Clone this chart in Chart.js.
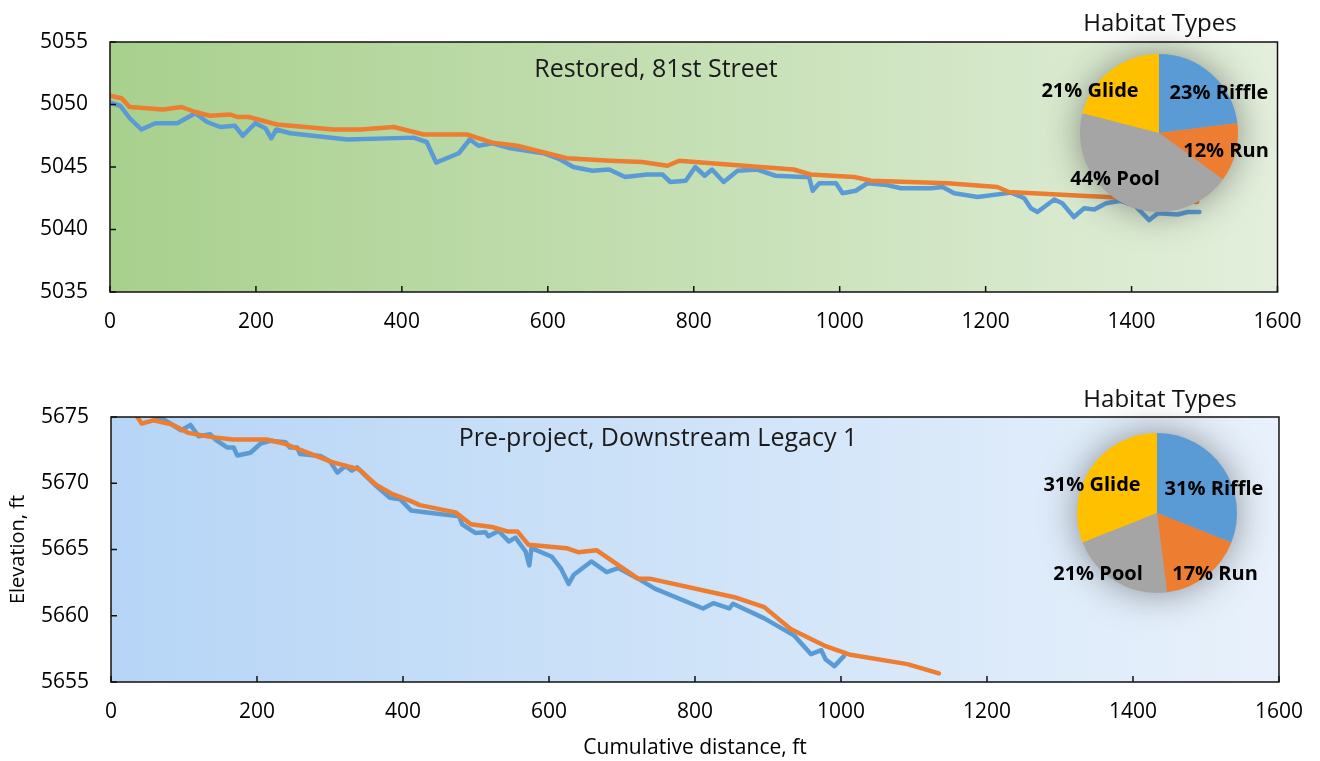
<!DOCTYPE html>
<html><head><meta charset="utf-8">
<script src="https://cdn.jsdelivr.net/npm/chart.js@4.4.1/dist/chart.umd.min.js"></script>
<style>
body{margin:0;width:1320px;height:761px;background:#fff;position:relative;overflow:hidden;font-family:"Open Sans",sans-serif;}
canvas{position:absolute;display:block;}
.t{position:absolute;transform:translate(-50%,-50%);white-space:nowrap;color:#000;line-height:1;}
.h{font-size:24px;color:#111;}
.pt{font-size:25px;color:#1a1a1a;}
.pl{font-size:20px;font-weight:700;color:#000;}
</style></head><body>
<canvas id="c1" width="1320" height="345" style="left:0;top:0"></canvas>
<canvas id="c2" width="1320" height="401" style="left:0;top:360px"></canvas>
<canvas id="p1" width="260" height="260" style="left:1029px;top:3px"></canvas>
<canvas id="p2" width="260" height="260" style="left:1027px;top:383px"></canvas>

<div class="t h" style="left:1160px;top:22px">Habitat Types</div>
<div class="t pt" style="left:656px;top:67px">Restored, 81st Street</div>
<div class="t pl" style="left:1090px;top:90px">21% Glide</div>
<div class="t pl" style="left:1219px;top:92px">23% Riffle</div>
<div class="t pl" style="left:1226px;top:150px">12% Run</div>
<div class="t pl" style="left:1115px;top:178px">44% Pool</div>

<div class="t h" style="left:1160px;top:398px">Habitat Types</div>
<div class="t pt" style="left:658px;top:436px">Pre-project, Downstream Legacy 1</div>
<div class="t pl" style="left:1092px;top:484px">31% Glide</div>
<div class="t pl" style="left:1214px;top:488px">31% Riffle</div>
<div class="t pl" style="left:1098px;top:573px">21% Pool</div>
<div class="t pl" style="left:1215px;top:573px">17% Run</div>

<script>
// ---------- DATA ----------
const xTicks = [0, 200, 400, 600, 800, 1000, 1200, 1400, 1600];

const topBlueDist = [0,14,27,43,62,92,117,133,151,171,182,199,213,221,228,247,325,416,434,447,478,493,505,524,549,594,617,635,661,684,706,736,757,768,789,802,815,825,841,860,887,912,951,958,963,972,995,1004,1022,1038,1065,1084,1125,1141,1157,1189,1235,1253,1262,1271,1294,1305,1321,1335,1349,1365,1385,1405,1424,1436,1463,1477,1493];
const topBlueElev = [5050.15,5049.9,5048.9,5048.0,5048.5,5048.5,5049.3,5048.6,5048.2,5048.3,5047.5,5048.5,5048.1,5047.3,5048.0,5047.7,5047.2,5047.35,5047.0,5045.35,5046.1,5047.2,5046.7,5046.9,5046.5,5046.1,5045.6,5045.0,5044.7,5044.8,5044.2,5044.4,5044.4,5043.8,5043.9,5045.0,5044.3,5044.8,5043.8,5044.7,5044.8,5044.3,5044.2,5044.2,5043.1,5043.7,5043.7,5042.9,5043.1,5043.7,5043.55,5043.3,5043.3,5043.4,5042.9,5042.6,5042.95,5042.5,5041.7,5041.4,5042.4,5042.1,5041.0,5041.7,5041.6,5042.1,5042.3,5041.9,5040.75,5041.3,5041.2,5041.4,5041.4];

const topOrangeDist = [0,16,27,73,98,117,137,165,174,190,229,306,343,389,430,489,524,558,626,686,729,764,780,846,937,960,1020,1043,1148,1216,1232,1331,1367,1420,1490];
const topOrangeElev = [5050.7,5050.5,5049.8,5049.6,5049.8,5049.4,5049.1,5049.2,5049.0,5049.0,5048.4,5048.0,5048.0,5048.2,5047.6,5047.6,5046.95,5046.7,5045.7,5045.5,5045.4,5045.1,5045.5,5045.2,5044.8,5044.4,5044.2,5043.9,5043.7,5043.4,5043.0,5042.7,5042.6,5042.4,5042.2];

const botBlueDist = [40,71,96,109,120,136,143,159,168,173,191,205,218,239,245,255,259,287,300,310,321,330,337,363,382,396,411,433,477,481,499,513,517,531,545,554,568,573,576,604,616,627,634,658,679,695,722,745,811,825,847,852,895,936,959,973,979,991,1004];
const botBlueElev = [5675.4,5674.85,5674.0,5674.4,5673.55,5673.7,5673.3,5672.7,5672.7,5672.1,5672.3,5673.0,5673.2,5673.1,5672.7,5672.7,5672.2,5672.05,5671.65,5670.8,5671.3,5670.95,5671.2,5669.8,5668.9,5668.8,5667.95,5667.8,5667.5,5666.9,5666.25,5666.3,5666.0,5666.4,5665.6,5665.9,5664.85,5663.8,5665.1,5664.45,5663.6,5662.4,5663.1,5664.1,5663.3,5663.6,5662.8,5662.05,5660.55,5660.95,5660.55,5660.9,5659.8,5658.5,5657.1,5657.4,5656.7,5656.2,5656.95];

const botOrangeDist = [35,42,58,83,106,136,167,213,237,303,340,363,385,411,423,472,493,522,544,557,572,624,640,665,722,738,854,895,931,977,1013,1091,1134];
const botOrangeElev = [5675.1,5674.5,5674.75,5674.45,5673.8,5673.5,5673.3,5673.3,5673.0,5671.6,5671.05,5669.9,5669.2,5668.65,5668.35,5667.8,5666.9,5666.7,5666.35,5666.35,5665.35,5665.1,5664.8,5664.95,5662.8,5662.8,5661.4,5660.65,5659.0,5657.75,5657.05,5656.35,5655.65];

const habitatLabels = ['Riffle', 'Run', 'Pool', 'Glide'];
const topHabitatPct = [23, 12, 44, 21];
const botHabitatPct = [31, 17, 21, 31];
// --------------------------

const FONT = '"Open Sans", sans-serif';
const zip = (xs, ys) => xs.map((x, i) => ({x, y: ys[i]}));
const plain = v => String(v);

const bgPlugin = {
  id: 'bg',
  beforeDraw(chart, args, o) {
    const {ctx, chartArea: a} = chart;
    const g = ctx.createLinearGradient(a.left, 0, a.right, 0);
    g.addColorStop(0, o.c0); g.addColorStop(1, o.c1);
    ctx.save(); ctx.fillStyle = g; ctx.fillRect(a.left, a.top, a.width, a.height); ctx.restore();
  }
};
const framePlugin = {
  id: 'frame',
  afterDatasetsDraw(chart) {
    const {ctx, chartArea: a, scales: {x, y}} = chart;
    ctx.save();
    ctx.strokeStyle = '#111'; ctx.lineWidth = 1.5;
    ctx.strokeRect(a.left, a.top, a.width, a.height);
    ctx.beginPath();
    x.ticks.forEach(t => { const px = x.getPixelForValue(t.value); ctx.moveTo(px, a.bottom); ctx.lineTo(px, a.bottom - 6); });
    y.ticks.forEach(t => { const py = y.getPixelForValue(t.value); ctx.moveTo(a.left, py); ctx.lineTo(a.left + 6, py); });
    ctx.stroke();
    ctx.restore();
  }
};

function lineChart(id, o) {
  return new Chart(document.getElementById(id), {
    type: 'line',
    data: {datasets: [
      {data: zip(o.bx, o.by), borderColor: '#5B9BD5', borderWidth: 4.5, pointRadius: 0, tension: 0, order: 1, borderJoinStyle: 'round', borderCapStyle: 'round'},
      {data: zip(o.ox, o.oy), borderColor: '#ED7D31', borderWidth: 4.5, pointRadius: 0, tension: 0, order: 0, borderJoinStyle: 'round', borderCapStyle: 'round'}
    ]},
    options: {
      responsive: false, animation: false, events: [],
      layout: {padding: {top: o.padTop, right: o.padRight, left: 0, bottom: 0}},
      plugins: {legend: {display: false}, tooltip: {enabled: false}, bg: {c0: o.c0, c1: o.c1}},
      scales: {
        x: {
          type: 'linear', min: 0, max: 1600,
          afterBuildTicks: s => { s.ticks = xTicks.map(v => ({value: v})); },
          ticks: {padding: o.xPad, color: '#000', font: {family: FONT, size: 21}, callback: plain},
          grid: {display: false, drawTicks: false}, border: {display: false},
          title: o.xTitle ? {display: true, text: o.xTitle, color: '#000', font: {family: FONT, size: 21}, padding: {top: 2, bottom: 0}} : {display: false},
          afterFit: s => { s.height = o.xh; }
        },
        y: {
          type: 'linear', min: o.ymin, max: o.ymax,
          ticks: {stepSize: 5, padding: 22, color: '#000', font: {family: FONT, size: 21}, callback: plain},
          grid: {display: false, drawTicks: false}, border: {display: false},
          title: o.yTitle ? {display: true, text: o.yTitle, color: '#000', font: {family: FONT, size: 20}, padding: {top: 6, bottom: 0}} : {display: false},
          afterFit: s => { s.width = o.yw; }
        }
      }
    },
    plugins: [bgPlugin, framePlugin]
  });
}

lineChart('c1', {bx: topBlueDist, by: topBlueElev, ox: topOrangeDist, oy: topOrangeElev,
  ymin: 5035, ymax: 5055, padTop: 42, padRight: 42.5, xh: 53, yw: 110, xPad: 17,
  c0: 'rgb(168,208,141)', c1: 'rgb(227,239,220)'});
lineChart('c2', {bx: botBlueDist, by: botBlueElev, ox: botOrangeDist, oy: botOrangeElev,
  ymin: 5655, ymax: 5675, padTop: 57, padRight: 37, xh: 79, yw: 111, xPad: 17,
  xTitle: 'Cumulative distance, ft', yTitle: 'Elevation, ft',
  c0: 'rgb(182,213,246)', c1: 'rgb(232,241,251)'});

const shadowPlugin = {
  id: 'pieShadow',
  beforeDatasetsDraw(chart) {
    const arc = chart.getDatasetMeta(0).data[0];
    if (!arc) return;
    const {x, y, outerRadius} = arc.getProps(['x', 'y', 'outerRadius'], true);
    const ctx = chart.ctx;
    ctx.save();
    ctx.fillStyle = '#a5a5a5';
    ctx.shadowColor = 'rgba(40,40,40,0.5)';
    ctx.shadowBlur = 36;
    ctx.beginPath(); ctx.arc(x, y, outerRadius - 1, 0, Math.PI * 2); ctx.fill();
    ctx.restore();
  }
};
function pieChart(id, values, pad) {
  return new Chart(document.getElementById(id), {
    type: 'pie',
    data: {labels: habitatLabels, datasets: [{data: values, backgroundColor: ['#5B9BD5', '#ED7D31', '#A5A5A5', '#FFC000'], borderWidth: 0}]},
    options: {responsive: false, animation: false, events: [], layout: {padding: pad},
      plugins: {legend: {display: false}, tooltip: {enabled: false}}},
    plugins: [shadowPlugin]
  });
}
pieChart('p1', topHabitatPct, 51);
pieChart('p2', botHabitatPct, 50);
</script>
</body></html>
